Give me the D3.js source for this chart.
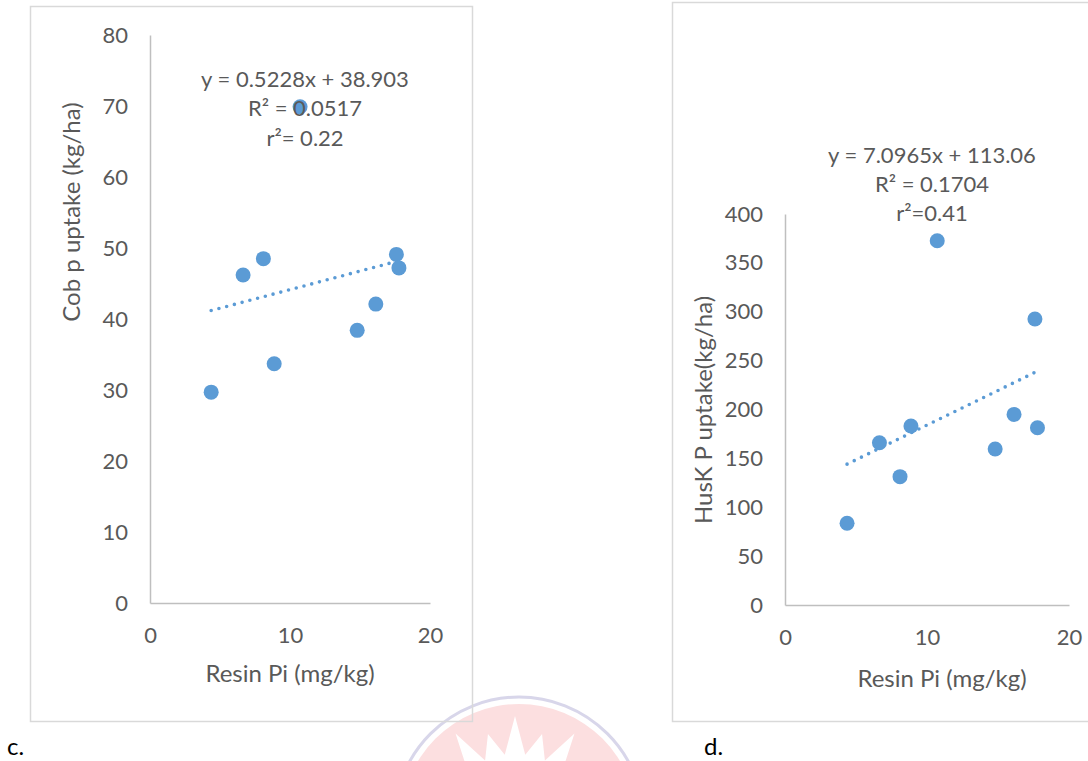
<!DOCTYPE html>
<html>
<head>
<meta charset="utf-8">
<script src="https://cdn.jsdelivr.net/npm/d3@7"></script>
<style>
  html, body { margin: 0; padding: 0; background: #ffffff; }
  svg { display: block; }
  text { font-family: Lato, "Open Sans", sans-serif; }
</style>
</head>
<body>
<svg id="fig" width="1088" height="761"></svg>
<script>
// Resin Pi (mg/kg) of the nine plots, shared by both panels
const resinPi = [4.37, 6.65, 8.1, 8.87, 10.72, 14.8, 16.13, 17.6, 17.78];
// Cob P uptake (kg/ha)
const cobUptake = [29.7, 46.2, 48.5, 33.7, 69.9, 38.4, 42.1, 49.1, 47.2];
// Husk P uptake (kg/ha)
const huskUptake = [83.6, 166, 131.3, 183.1, 372.7, 159.6, 195, 292.6, 181.4];

// Linear trend lines (slope, intercept)
const cobFit = [0.5228, 38.903];
const huskFit = [7.0965, 113.06];

// Axis ticks
const xTicks = [0, 10, 20];
const cobTicks = [0, 10, 20, 30, 40, 50, 60, 70, 80];
const huskTicks = [0, 50, 100, 150, 200, 250, 300, 350, 400];

// Equation labels
const cobLabels = ["y = 0.5228x + 38.903", "R² = 0.0517", "r²= 0.22"];
const huskLabels = ["y = 7.0965x + 113.06", "R² = 0.1704", "r²=0.41"];

const BLUE = "#5B9BD5";
const TEXT = "#595959";
const AXIS = "#BFBFBF";
const FRAME = "#D9D9D9";

const svg = d3.select("#fig");

// faint seal in the page background
(function seal() {
  const g = svg.append("g").attr("opacity", 0.9);
  const cx = 519, cy = 822;
  g.append("circle").attr("cx", cx).attr("cy", cy).attr("r", 118)
    .attr("fill", "#FCDCDD");
  g.append("circle").attr("cx", cx).attr("cy", cy).attr("r", 125)
    .attr("fill", "none").attr("stroke", "#D4D2E8").attr("stroke-width", 3);
  const n = 22, pts = [];
  for (let i = 0; i < n * 2; i++) {
    const a = -Math.PI / 2 + i * Math.PI / n;
    const r = i % 2 === 0 ? (i % 4 === 0 ? 110 : 96) : 72;
    pts.push([cx - 4 + r * Math.cos(a), cy + 4 + r * Math.sin(a)]);
  }
  g.append("polygon").attr("points", pts.map(p => p.join(",")).join(" "))
    .attr("fill", "#ffffff");
})();

function panel(opt) {
  const g = svg.append("g");

  // chart frame
  g.append("rect")
    .attr("x", opt.frame[0] + 0.5).attr("y", opt.frame[1] + 0.5)
    .attr("width", opt.frame[2] - opt.frame[0]).attr("height", opt.frame[3] - opt.frame[1])
    .attr("fill", "none").attr("stroke", FRAME).attr("stroke-width", 1.5);

  const x = d3.scaleLinear().domain([0, 20]).range([opt.plot[0], opt.plot[2]]);
  const y = d3.scaleLinear().domain(opt.yDomain).range([opt.plot[3], opt.plot[1]]);

  const yAxis = g.append("g")
    .attr("transform", `translate(${opt.plot[0]},0)`)
    .call(d3.axisLeft(y).tickValues(opt.yTicks).tickSize(0).tickSizeOuter(0).tickPadding(22));
  const xAxis = g.append("g")
    .attr("transform", `translate(0,${opt.plot[3]})`)
    .call(d3.axisBottom(x).tickValues(xTicks).tickSize(0).tickSizeOuter(0).tickPadding(24));

  [yAxis, xAxis].forEach(ax => {
    ax.select(".domain").attr("stroke", AXIS).attr("stroke-width", 1.5);
    ax.selectAll("text").attr("fill", TEXT).style("font-size", "22px")
      .style("font-family", "Lato, 'Open Sans', sans-serif");
  });

  // dotted linear trend line across the observed x range
  const [lo, hi] = d3.extent(resinPi);
  g.append("line")
    .attr("x1", x(lo)).attr("y1", y(opt.fit[0] * lo + opt.fit[1]))
    .attr("x2", x(hi)).attr("y2", y(opt.fit[0] * hi + opt.fit[1]))
    .attr("stroke", BLUE).attr("stroke-width", 3.6)
    .attr("stroke-linecap", "round").attr("stroke-dasharray", "0 8");

  // observations
  g.selectAll("circle.pt").data(resinPi.map((v, i) => [v, opt.values[i]]))
    .join("circle").attr("class", "pt")
    .attr("cx", d => x(d[0])).attr("cy", d => y(d[1]))
    .attr("r", 7.5).attr("fill", BLUE);

  // regression text
  g.selectAll("text.eq").data(opt.labels).join("text").attr("class", "eq")
    .attr("x", opt.eqPos[0]).attr("y", (d, i) => opt.eqPos[1] + i * opt.eqPos[2])
    .attr("dy", "0.36em").attr("text-anchor", "middle")
    .attr("fill", TEXT).style("font-size", "22px").text(d => d);

  // axis titles
  g.append("text")
    .attr("x", opt.xTitle[0]).attr("y", opt.xTitle[1]).attr("dy", "0.36em")
    .attr("text-anchor", "middle").attr("fill", TEXT).style("font-size", "24px")
    .text("Resin Pi (mg/kg)");
  g.append("text")
    .attr("transform", `translate(${opt.yTitle[0]},${opt.yTitle[1]}) rotate(-90)`)
    .attr("dy", "0.36em").attr("text-anchor", "middle").attr("fill", TEXT)
    .style("font-size", "24px").text(opt.yTitleText);

  // panel letter
  g.append("text").attr("x", opt.letter[0]).attr("y", opt.letter[1])
    .attr("fill", "#000").style("font-size", "24px")
    .style("font-family", "Lato, 'Open Sans', sans-serif").text(opt.letterText);
}

panel({
  frame: [30, 6, 472, 721],
  plot: [150, 35, 430, 603],
  yDomain: [0, 80], yTicks: cobTicks,
  values: cobUptake, fit: cobFit, labels: cobLabels,
  eqPos: [305, 79, 29.5],
  xTitle: [290, 673], yTitle: [71, 212], yTitleText: "Cob p uptake (kg/ha)",
  letter: [7, 755], letterText: "c."
});

panel({
  frame: [672, 2, 1100, 721],
  plot: [785, 214, 1069, 605],
  yDomain: [0, 400], yTicks: huskTicks,
  values: huskUptake, fit: huskFit, labels: huskLabels,
  eqPos: [932, 155, 29.2],
  xTitle: [942, 678], yTitle: [703, 410], yTitleText: "HusK P uptake(kg/ha)",
  letter: [704, 755], letterText: "d."
});
</script>
</body>
</html>
